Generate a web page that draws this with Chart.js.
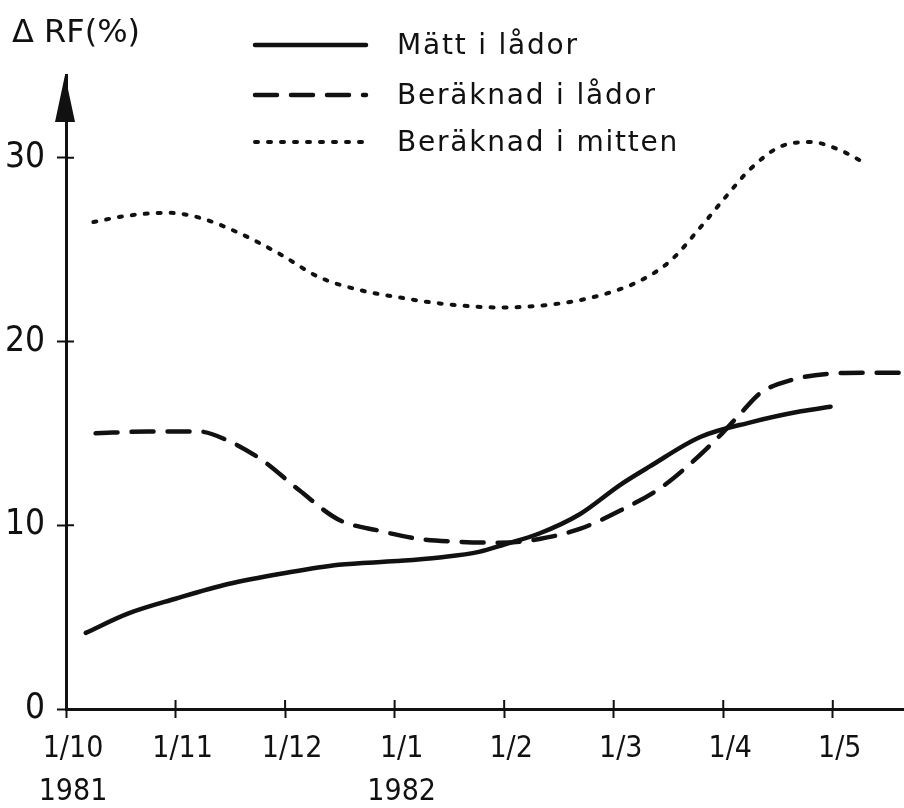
<!DOCTYPE html>
<html>
<head>
<meta charset="utf-8">
<script src="https://cdn.jsdelivr.net/npm/chart.js@4/dist/chart.umd.min.js"></script>
<style>
  html, body { margin: 0; padding: 0; background: #fff; }
  #wrap { width: 904px; height: 808px; position: relative; }
</style>
</head>
<body>
<div id="wrap"><canvas id="c" width="904" height="808"></canvas></div>
<script>
// ---- data (x = months after 1 Oct 1981) ----
const monthTicks = [0, 1, 2, 3, 4, 5, 6, 7];
const monthLabels = [['1/10', '1981'], '1/11', '1/12', ['1/1', '1982'], '1/2', '1/3', '1/4', '1/5'];
const yTicks = [0, 10, 20, 30];

const seriesNames = ['Mätt i lådor', 'Beräknad i lådor', 'Beräknad i mitten'];

const mattMonths = [0.18, 0.57, 1.0, 1.48, 2.0, 2.49, 3.02, 3.41, 3.77, 4.0, 4.32, 4.69, 5.06, 5.33, 5.79, 6.25, 6.71, 6.98];
const mattValues = [4.14, 5.2, 6.0, 6.8, 7.4, 7.85, 8.05, 8.25, 8.55, 8.95, 9.55, 10.6, 12.2, 13.2, 14.8, 15.6, 16.2, 16.45];

const ladorMonths = [0.27, 0.75, 1.21, 1.48, 1.8, 2.13, 2.49, 2.86, 3.23, 3.59, 3.96, 4.32, 4.69, 5.06, 5.42, 5.7, 5.99, 6.16, 6.34, 6.62, 6.98, 7.35, 7.62];
const ladorValues = [15.0, 15.1, 15.1, 14.6, 13.5, 11.9, 10.3, 9.7, 9.25, 9.1, 9.05, 9.25, 9.8, 10.8, 12.0, 13.35, 15.0, 16.1, 17.2, 17.9, 18.25, 18.3, 18.3];

const mittenMonths = [0.25, 0.57, 0.93, 1.21, 1.58, 1.94, 2.31, 2.68, 3.04, 3.41, 3.96, 4.51, 4.87, 5.24, 5.52, 5.79, 6.02, 6.25, 6.52, 6.8, 7.07, 7.28];
const mittenValues = [26.5, 26.85, 27.0, 26.75, 25.9, 24.8, 23.5, 22.8, 22.4, 22.07, 21.85, 22.07, 22.5, 23.3, 24.4, 26.2, 27.85, 29.4, 30.6, 30.85, 30.4, 29.75];

const yAxisTitle = 'Δ RF(%)';

// ---- build ----
const pts = (xs, ys) => xs.map((x, i) => ({ x: x, y: ys[i] }));
const INK = '#111';
const numFont = '"Liberation Sans Narrow", "DejaVu Sans Condensed", "Liberation Sans", sans-serif';
const txtFont = '"DejaVu Sans", "Liberation Sans", sans-serif';

const decor = {
  id: 'decor',
  afterDraw(chart) {
    const ctx = chart.ctx;
    const xs = chart.scales.x, ys = chart.scales.y;
    const a = chart.chartArea;
    ctx.save();
    ctx.strokeStyle = INK;
    ctx.fillStyle = INK;
    // inner halves of tick marks
    ctx.lineWidth = 2;
    ctx.beginPath();
    yTicks.forEach(v => {
      const py = ys.getPixelForValue(v);
      ctx.moveTo(a.left, py); ctx.lineTo(a.left + 8, py);
    });
    monthTicks.forEach(v => {
      const px = xs.getPixelForValue(v);
      ctx.moveTo(px, a.bottom); ctx.lineTo(px, a.bottom - 9);
    });
    ctx.stroke();
    // arrow head on y axis
    const ax = a.left - 1;
    ctx.beginPath();
    ctx.moveTo(ax, a.top);
    ctx.lineTo(ax - 10, a.top + 47);
    ctx.lineTo(ax + 10, a.top + 47);
    ctx.closePath();
    ctx.fill();
    // y axis title
    ctx.font = '32px ' + txtFont;
    ctx.textBaseline = 'alphabetic';
    ctx.textAlign = 'left';
    ctx.fillText(yAxisTitle, 12, 42);
    // legend
    const rows = [45, 95, 142];
    chart.data.datasets.forEach((ds, i) => {
      const y = rows[i];
      ctx.save();
      ctx.lineWidth = ds.borderWidth;
      ctx.lineCap = ds.borderCapStyle || 'butt';
      ctx.setLineDash(ds.borderDash || []);
      ctx.beginPath();
      ctx.moveTo(255, y); ctx.lineTo(366, y);
      ctx.stroke();
      ctx.restore();
      ctx.font = '28px ' + txtFont;
      if ('letterSpacing' in ctx) ctx.letterSpacing = '1.8px';
      ctx.textBaseline = 'alphabetic';
      ctx.fillText(ds.label, 397, y + 9);
      if ('letterSpacing' in ctx) ctx.letterSpacing = '0px';
    });
    ctx.restore();
  }
};

new Chart(document.getElementById('c'), {
  type: 'line',
  data: {
    datasets: [
      { label: seriesNames[0], data: pts(mattMonths, mattValues), borderColor: INK, borderWidth: 4.5,
        borderCapStyle: 'round', pointRadius: 0, cubicInterpolationMode: 'monotone', fill: false },
      { label: seriesNames[1], data: pts(ladorMonths, ladorValues), borderColor: INK, borderWidth: 4.5,
        borderCapStyle: 'round', borderDash: [22, 14], pointRadius: 0, cubicInterpolationMode: 'monotone', fill: false },
      { label: seriesNames[2], data: pts(mittenMonths, mittenValues), borderColor: INK, borderWidth: 4,
        borderCapStyle: 'round', borderDash: [3, 10], pointRadius: 0, cubicInterpolationMode: 'monotone', fill: false }
    ]
  },
  options: {
    responsive: false,
    animation: false,
    devicePixelRatio: 1,
    layout: { padding: { top: 75, right: 0, left: 0, bottom: 0 } },
    plugins: { legend: { display: false }, tooltip: { enabled: false } },
    scales: {
      x: {
        type: 'linear', min: 0, max: 7.65,
        afterFit: s => { s.height = 99; },
        afterBuildTicks: s => { s.ticks = monthTicks.map(v => ({ value: v })); },
        grid: { drawOnChartArea: false, drawTicks: true, tickLength: 9, tickWidth: 2, tickColor: INK },
        border: { display: true, color: INK, width: 3 },
        ticks: {
          color: INK, padding: 10, labelOffset: 7, maxRotation: 0, autoSkip: false,
          font: { family: numFont, size: 30, lineHeight: 1.43 },
          callback: (v) => { const i = monthTicks.indexOf(v); return i >= 0 ? monthLabels[i] : ''; }
        }
      },
      y: {
        type: 'linear', min: 0, max: 34.5,
        afterFit: s => { s.width = 66; },
        afterBuildTicks: s => { s.ticks = yTicks.map(v => ({ value: v })); },
        grid: { drawOnChartArea: false, drawTicks: true, tickLength: 9, tickWidth: 2, tickColor: INK },
        border: { display: true, color: INK, width: 3 },
        ticks: { color: INK, padding: 12, font: { family: numFont, size: 35 } }
      }
    }
  },
  plugins: [decor]
});
</script>
</body>
</html>
